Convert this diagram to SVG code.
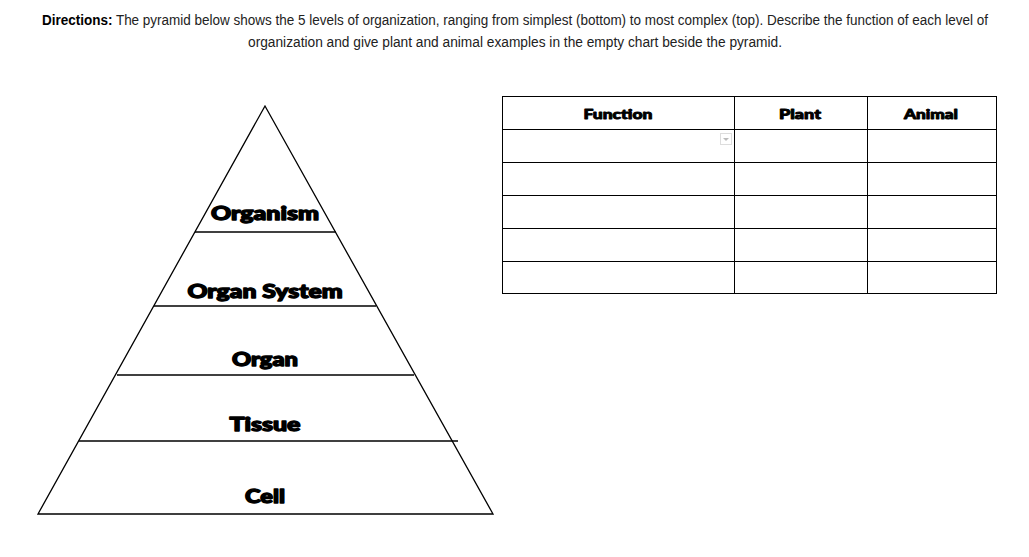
<svg xmlns="http://www.w3.org/2000/svg" width="1029" height="557" viewBox="0 0 1029 557">
<style>
.dir{font-family:"Liberation Sans",Arial,sans-serif;font-size:14px;fill:#222}
.lbl{font-family:Lato,"DejaVu Sans",sans-serif;font-weight:900;font-size:18px;fill:#000;stroke:#000;stroke-width:1.3;stroke-linejoin:round;text-anchor:middle}
.th{font-family:Lato,"DejaVu Sans",sans-serif;font-weight:900;font-size:13.5px;fill:#000;stroke:#000;stroke-width:0.9;stroke-linejoin:round;text-anchor:middle}
.ln{stroke:#000;stroke-width:1.3;fill:none}
.tb{stroke:#000;stroke-width:1;fill:none}
</style>
<rect width="1029" height="557" fill="#fff"/>
<g id="directions">
<text class="dir" x="42" y="25" textLength="946" lengthAdjust="spacingAndGlyphs"><tspan font-weight="bold" fill="#000">Directions:</tspan> The pyramid below shows the 5 levels of organization, ranging from simplest (bottom) to most complex (top). Describe the function of each level of</text>
<text class="dir" x="248" y="47" textLength="534" lengthAdjust="spacingAndGlyphs">organization and give plant and animal examples in the empty chart beside the pyramid.</text>
</g>
<g id="pyramid">
<polygon class="ln" points="265,106 38,514 493,514"/>
<line class="ln" x1="195" y1="232" x2="336" y2="232"/>
<line class="ln" x1="154" y1="306" x2="376" y2="306"/>
<line class="ln" x1="117" y1="375" x2="414" y2="375"/>
<line class="ln" x1="79" y1="441" x2="458" y2="441"/>
</g>
<g id="level-organism"><text class="lbl" x="265" y="220" textLength="108" lengthAdjust="spacingAndGlyphs">Organism</text></g>
<g id="level-organ-system"><text class="lbl" x="265" y="298" textLength="155" lengthAdjust="spacingAndGlyphs">Organ System</text></g>
<g id="level-organ"><text class="lbl" x="265" y="366" textLength="66" lengthAdjust="spacingAndGlyphs">Organ</text></g>
<g id="level-tissue"><text class="lbl" x="265" y="431" textLength="71" lengthAdjust="spacingAndGlyphs">Tissue</text></g>
<g id="level-cell"><text class="lbl" x="265" y="503" textLength="40" lengthAdjust="spacingAndGlyphs">Cell</text></g>
<g id="table">
<rect class="tb" x="502.5" y="96.5" width="494" height="197"/>
<line class="tb" x1="734.5" y1="96" x2="734.5" y2="294"/>
<line class="tb" x1="867.5" y1="96" x2="867.5" y2="294"/>
<line class="tb" x1="502" y1="129.5" x2="997" y2="129.5"/>
<line class="tb" x1="502" y1="162.5" x2="997" y2="162.5"/>
<line class="tb" x1="502" y1="195.5" x2="997" y2="195.5"/>
<line class="tb" x1="502" y1="228.5" x2="997" y2="228.5"/>
<line class="tb" x1="502" y1="261.5" x2="997" y2="261.5"/>
<text class="th" x="618" y="119" textLength="69" lengthAdjust="spacingAndGlyphs">Function</text>
<text class="th" x="800" y="119" textLength="42" lengthAdjust="spacingAndGlyphs">Plant</text>
<text class="th" x="931" y="119" textLength="54" lengthAdjust="spacingAndGlyphs">Animal</text>
<rect x="720.5" y="133.5" width="11" height="11" fill="#fff" stroke="#ddd" stroke-width="1"/>
<polygon points="723,138 729,138 726,141" fill="#bbb"/>
</g>
</svg>
